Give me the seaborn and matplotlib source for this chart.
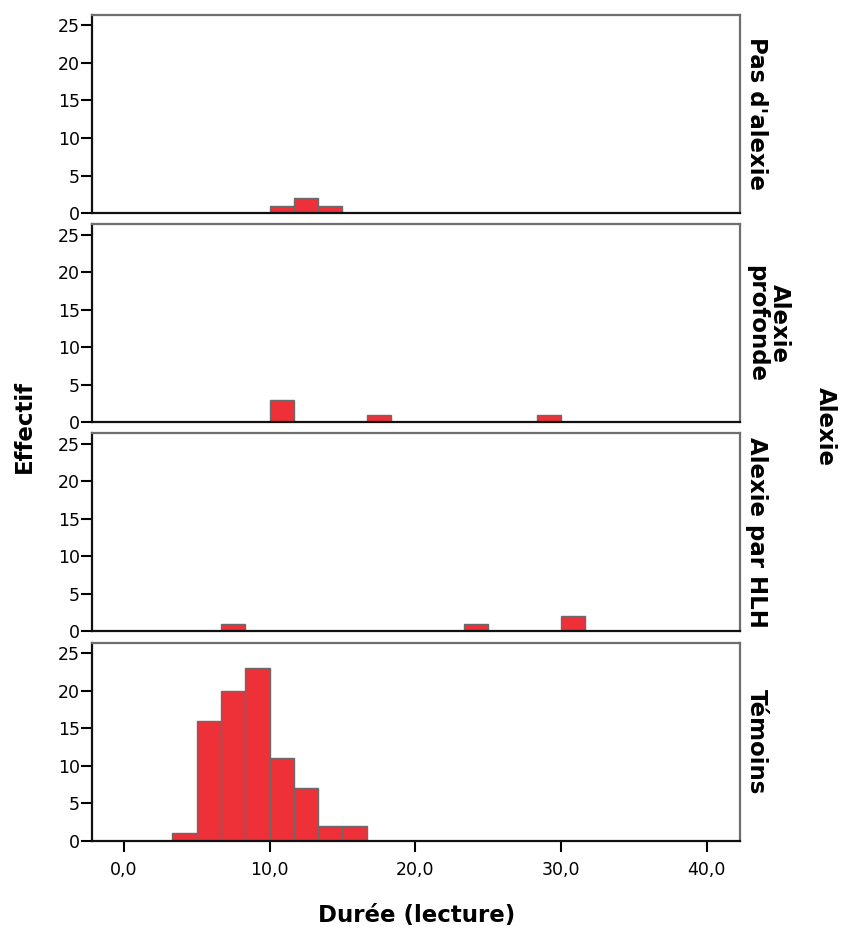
import numpy as np
import pandas as pd
import matplotlib
matplotlib.use("Agg")
import matplotlib.pyplot as plt
import seaborn as sns
from matplotlib.ticker import FuncFormatter

# groups (top to bottom) and their row titles
groups = ["Pas d'alexie", "Alexie profonde", "Alexie par HLH", "Témoins"]
row_titles = ["Pas d'alexie", "Alexie\nprofonde", "Alexie par HLH", "Témoins"]

# bin width (bins start at 0)
bin_width = 5 / 3

# bin centres and counts per group
pas_centres = [10.83, 12.50, 14.17]
pas_counts = [1, 2, 1]
prof_centres = [10.83, 17.50, 29.17]
prof_counts = [3, 1, 1]
hlh_centres = [7.50, 24.17, 30.83]
hlh_counts = [1, 1, 2]
tem_centres = [4.17, 5.83, 7.50, 9.17, 10.83, 12.50, 14.17, 15.83]
tem_counts = [1, 16, 20, 23, 11, 7, 2, 2]

x_ticks = [0, 10, 20, 30, 40]
y_ticks = [0, 5, 10, 15, 20, 25]

frames = []
for g, c, n in zip(groups,
                   [pas_centres, prof_centres, hlh_centres, tem_centres],
                   [pas_counts, prof_counts, hlh_counts, tem_counts]):
    frames.append(pd.DataFrame({"duree": c, "n": n, "alexie": g}))
df = pd.concat(frames, ignore_index=True)

sns.set_theme(style="white", rc={"text.color": "black", "xtick.color": "black",
                                 "ytick.color": "black", "axes.labelcolor": "black"})
plt.rcParams["font.family"] = ["DejaVu Sans"]

fig, axes = plt.subplots(4, 1, figsize=(8.42, 9.32), dpi=100, sharex=True)
fig.subplots_adjust(left=0.109, right=0.879, top=0.984, bottom=0.098, hspace=0.056)

bar_color = "#ee3039"

for ax, g, title in zip(axes, groups, row_titles):
    sub = df[df["alexie"] == g]
    sns.histplot(data=sub, x="duree", weights="n", binwidth=bin_width,
                 binrange=(0, 40), ax=ax, color=bar_color, alpha=1,
                 edgecolor="#6a6a6a", linewidth=1.0)
    ax.set_xlim(-2.2, 42.3)
    ax.set_ylim(0, 26.4)
    ax.set_yticks(y_ticks)
    ax.set_xlabel("")
    ax.set_ylabel("")
    ax.tick_params(axis="y", which="both", left=True, length=8, width=1.5,
                   labelsize=12.5, pad=0.5)
    for side in ["left", "bottom"]:
        ax.spines[side].set_color("#111111")
        ax.spines[side].set_linewidth(1.6)
    for side in ["top", "right"]:
        ax.spines[side].set_color("#6e6e6e")
        ax.spines[side].set_linewidth(1.6)
    ax.text(1.008, 0.5, title, transform=ax.transAxes, rotation=-90,
            ha="left", va="center", multialignment="center", fontsize=16.5,
            fontweight="bold", linespacing=1.0)
    ax.tick_params(axis="x", bottom=False)

axes[-1].set_xticks(x_ticks)
axes[-1].xaxis.set_major_formatter(FuncFormatter(lambda v, p: f"{v:.1f}".replace(".", ",")))
axes[-1].tick_params(axis="x", bottom=True, length=8, width=1.5, labelsize=12.5, pad=7)

fig.text(0.0285, 0.542, "Effectif", rotation=90, ha="center", va="center",
         fontsize=16.5, fontweight="bold")
fig.text(0.98, 0.542, "Alexie", rotation=-90, ha="center", va="center",
         fontsize=16.5, fontweight="bold")
fig.text(0.495, 0.018, "Durée (lecture)", ha="center", va="center",
         fontsize=16.5, fontweight="bold")

fig.savefig("out.png", dpi=100)
